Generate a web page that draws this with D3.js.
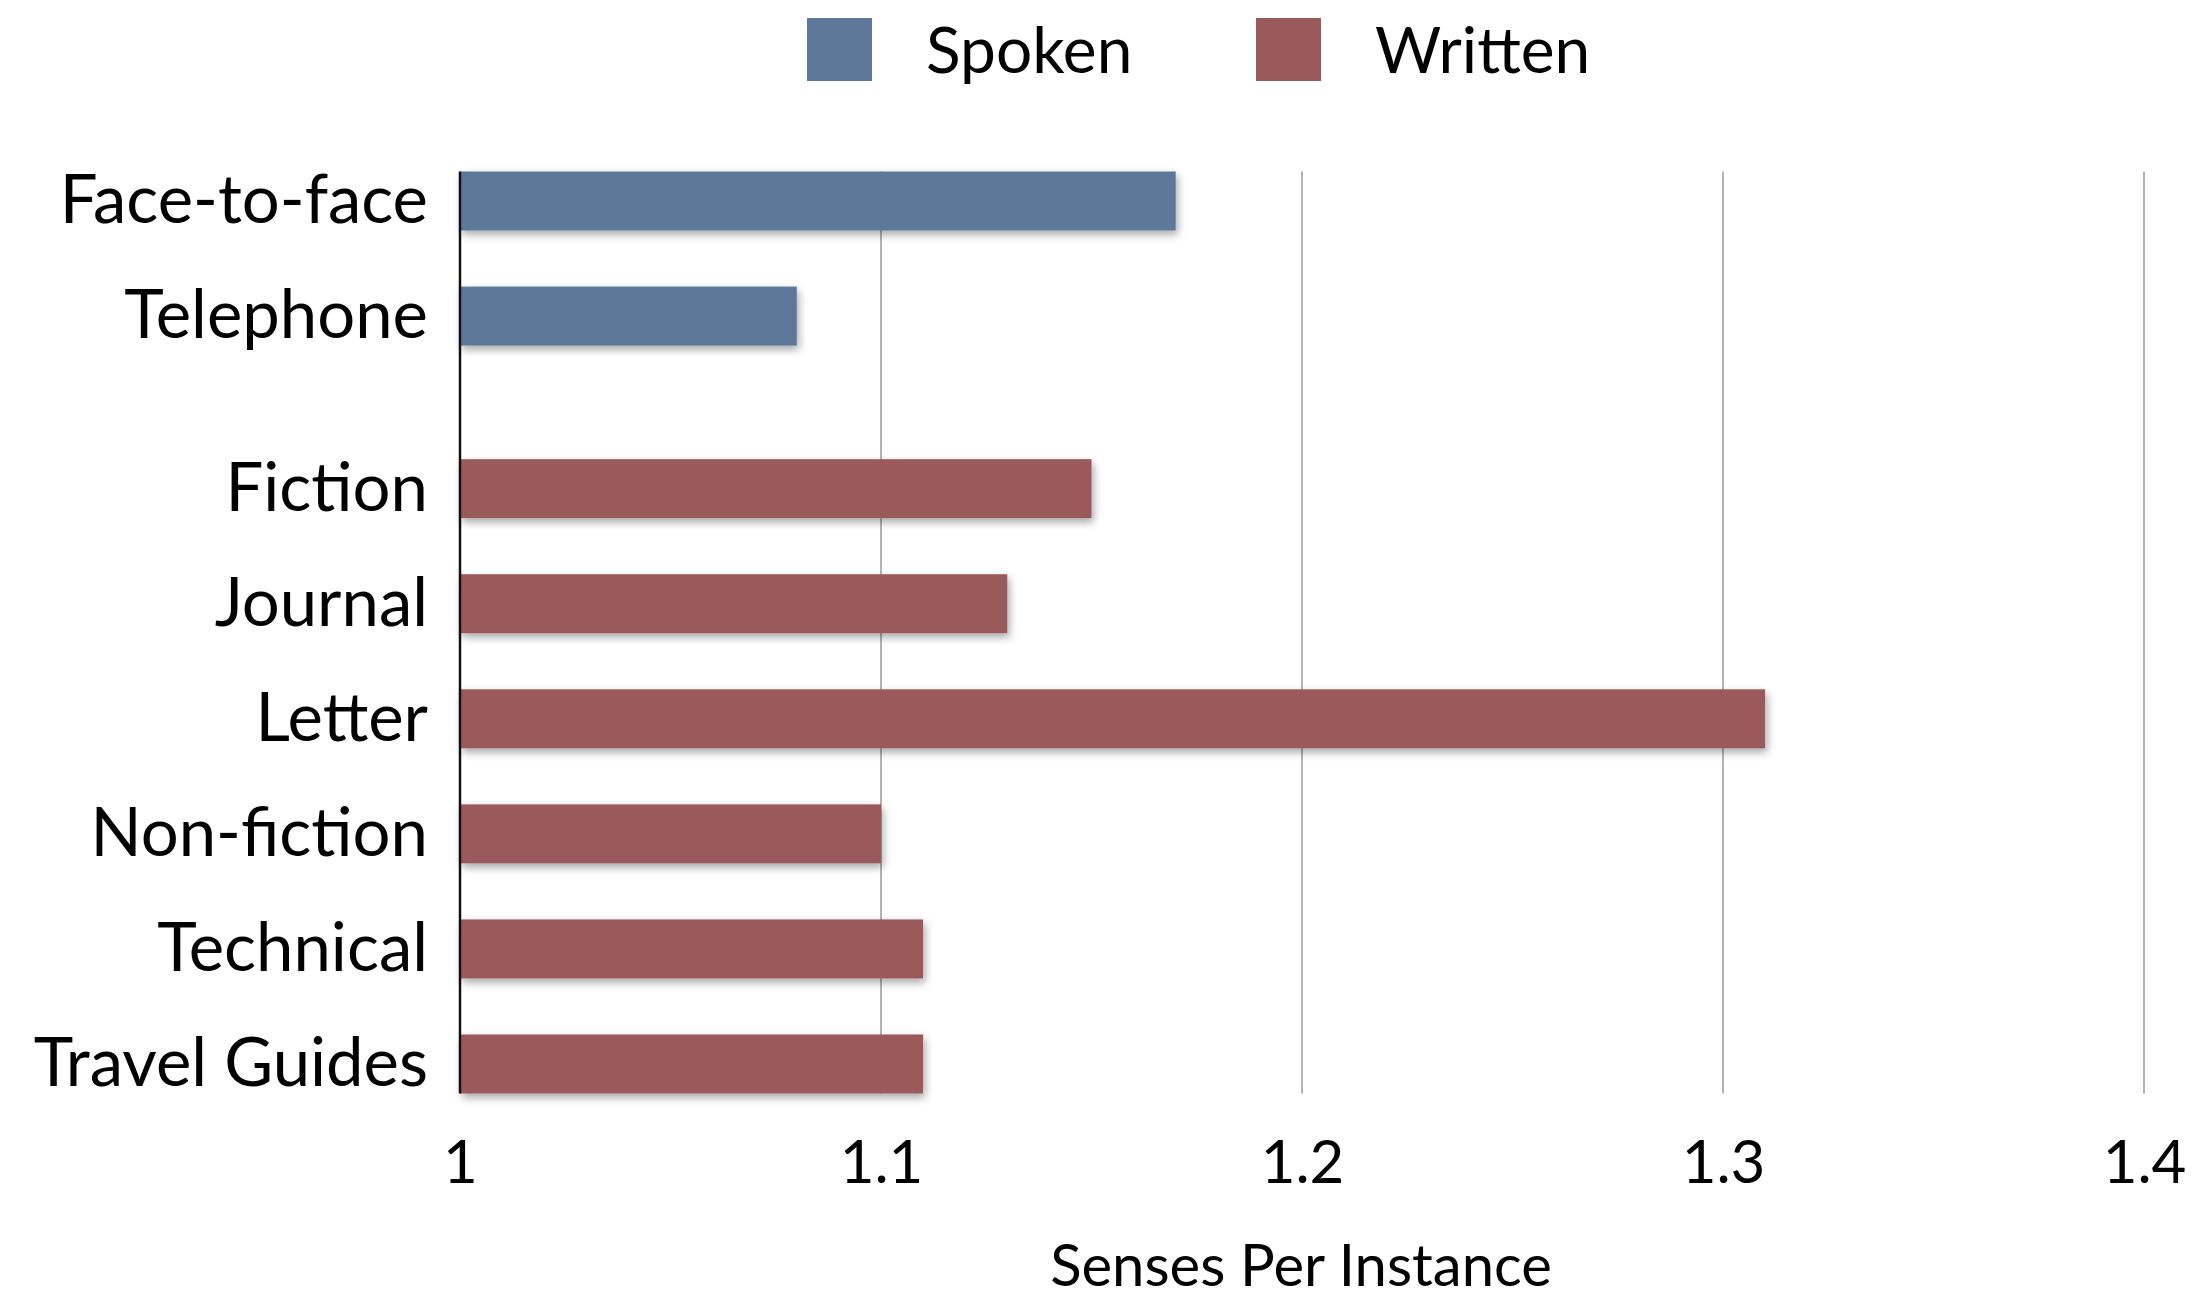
<!DOCTYPE html>
<html>
<head>
<meta charset="utf-8">
<script src="https://cdn.jsdelivr.net/npm/d3@7"></script>
<style>
  html, body { margin: 0; padding: 0; background: #fff; }
  svg { display: block; }
  text { font-family: Lato, "Open Sans", sans-serif; fill: #000; }
</style>
</head>
<body>
<svg id="chart" width="2201" height="1299"></svg>
<script>
// Senses per instance, by register
const spokenCategories = ["Face-to-face", "Telephone"];
const spokenValues = [1.17, 1.08];
const writtenCategories = ["Fiction", "Journal", "Letter", "Non-fiction", "Technical", "Travel Guides"];
const writtenValues = [1.15, 1.13, 1.31, 1.10, 1.11, 1.11];
const xTicks = [1, 1.1, 1.2, 1.3, 1.4];
const seriesNames = ["Spoken", "Written"];
const seriesColors = ["#5d7898", "#9a5a5c"];
const xTitle = "Senses Per Instance";

// Build rows; each group is followed by half a slot of spacing
const groups = [
  { name: seriesNames[0], cats: spokenCategories, vals: spokenValues, color: seriesColors[0] },
  { name: seriesNames[1], cats: writtenCategories, vals: writtenValues, color: seriesColors[1] }
];
const rows = [];
let slot = 0;
groups.forEach(g => {
  g.cats.forEach((c, i) => {
    rows.push({ cat: c, val: g.vals[i], color: g.color, slot: slot });
    slot += 1;
  });
  slot += 0.5;
});
const lastSlot = rows[rows.length - 1].slot;

const svg = d3.select("#chart");
const x = d3.scaleLinear().domain([1, 1.4]).range([460, 2144]);
const y = d3.scaleLinear().domain([0, lastSlot]).range([201, 1064]);
const barH = 59;
const plotTop = y(0) - barH / 2;
const plotBottom = y(lastSlot) + barH / 2;

// Soft drop shadow for the bars
const defs = svg.append("defs");
const shadow = defs.append("filter").attr("id", "shadow")
  .attr("x", "-5%").attr("y", "-30%").attr("width", "110%").attr("height", "170%");
shadow.append("feGaussianBlur").attr("in", "SourceAlpha").attr("stdDeviation", 4).attr("result", "b");
shadow.append("feOffset").attr("in", "b").attr("dx", 2).attr("dy", 4).attr("result", "o");
shadow.append("feComponentTransfer").attr("in", "o").attr("result", "s")
  .append("feFuncA").attr("type", "linear").attr("slope", 0.35);
const merge = shadow.append("feMerge");
merge.append("feMergeNode").attr("in", "s");
merge.append("feMergeNode").attr("in", "SourceGraphic");

// Grid lines
svg.append("g").selectAll("line")
  .data(xTicks.slice(1))
  .join("line")
  .attr("x1", d => x(d)).attr("x2", d => x(d))
  .attr("y1", plotTop).attr("y2", plotBottom)
  .attr("stroke", "#b3b3b3").attr("stroke-width", 2);

// Bars
svg.append("g").selectAll("rect")
  .data(rows)
  .join("rect")
  .attr("x", x(1))
  .attr("y", d => y(d.slot) - barH / 2)
  .attr("width", d => x(d.val) - x(1))
  .attr("height", barH)
  .attr("fill", d => d.color)
  .attr("filter", "url(#shadow)");

// Vertical axis line
svg.append("line")
  .attr("x1", x(1)).attr("x2", x(1))
  .attr("y1", plotTop).attr("y2", plotBottom)
  .attr("stroke", "#111").attr("stroke-width", 2.5);

// Category labels
svg.append("g").selectAll("text")
  .data(rows)
  .join("text")
  .attr("x", 428)
  .attr("y", d => y(d.slot))
  .attr("dy", "0.33em")
  .attr("text-anchor", "end")
  .attr("font-size", 67)
  .text(d => d.cat);

// X tick labels
const xAxis = d3.axisBottom(x).tickValues(xTicks).tickSize(0).tickPadding(0)
  .tickFormat(d => d3.format("")(d));
const gx = svg.append("g").attr("transform", `translate(0, 1183)`).call(xAxis);
gx.select(".domain").remove();
gx.selectAll("text")
  .attr("y", 0).attr("dy", 0)
  .attr("font-size", 60)
  .attr("font-family", "Lato, sans-serif")
  .attr("fill", "#000");

// Axis title
svg.append("text")
  .attr("x", 1301).attr("y", 1286)
  .attr("text-anchor", "middle")
  .attr("font-size", 58)
  .text(xTitle);

// Legend
const legend = svg.append("g");
const legendX = [807, 1256];
groups.forEach((g, i) => {
  legend.append("rect")
    .attr("x", legendX[i]).attr("y", 18)
    .attr("width", 65).attr("height", 63)
    .attr("fill", g.color);
  legend.append("text")
    .attr("x", legendX[i] + 119).attr("y", 73)
    .attr("font-size", 64)
    .text(g.name);
});
</script>
</body>
</html>
